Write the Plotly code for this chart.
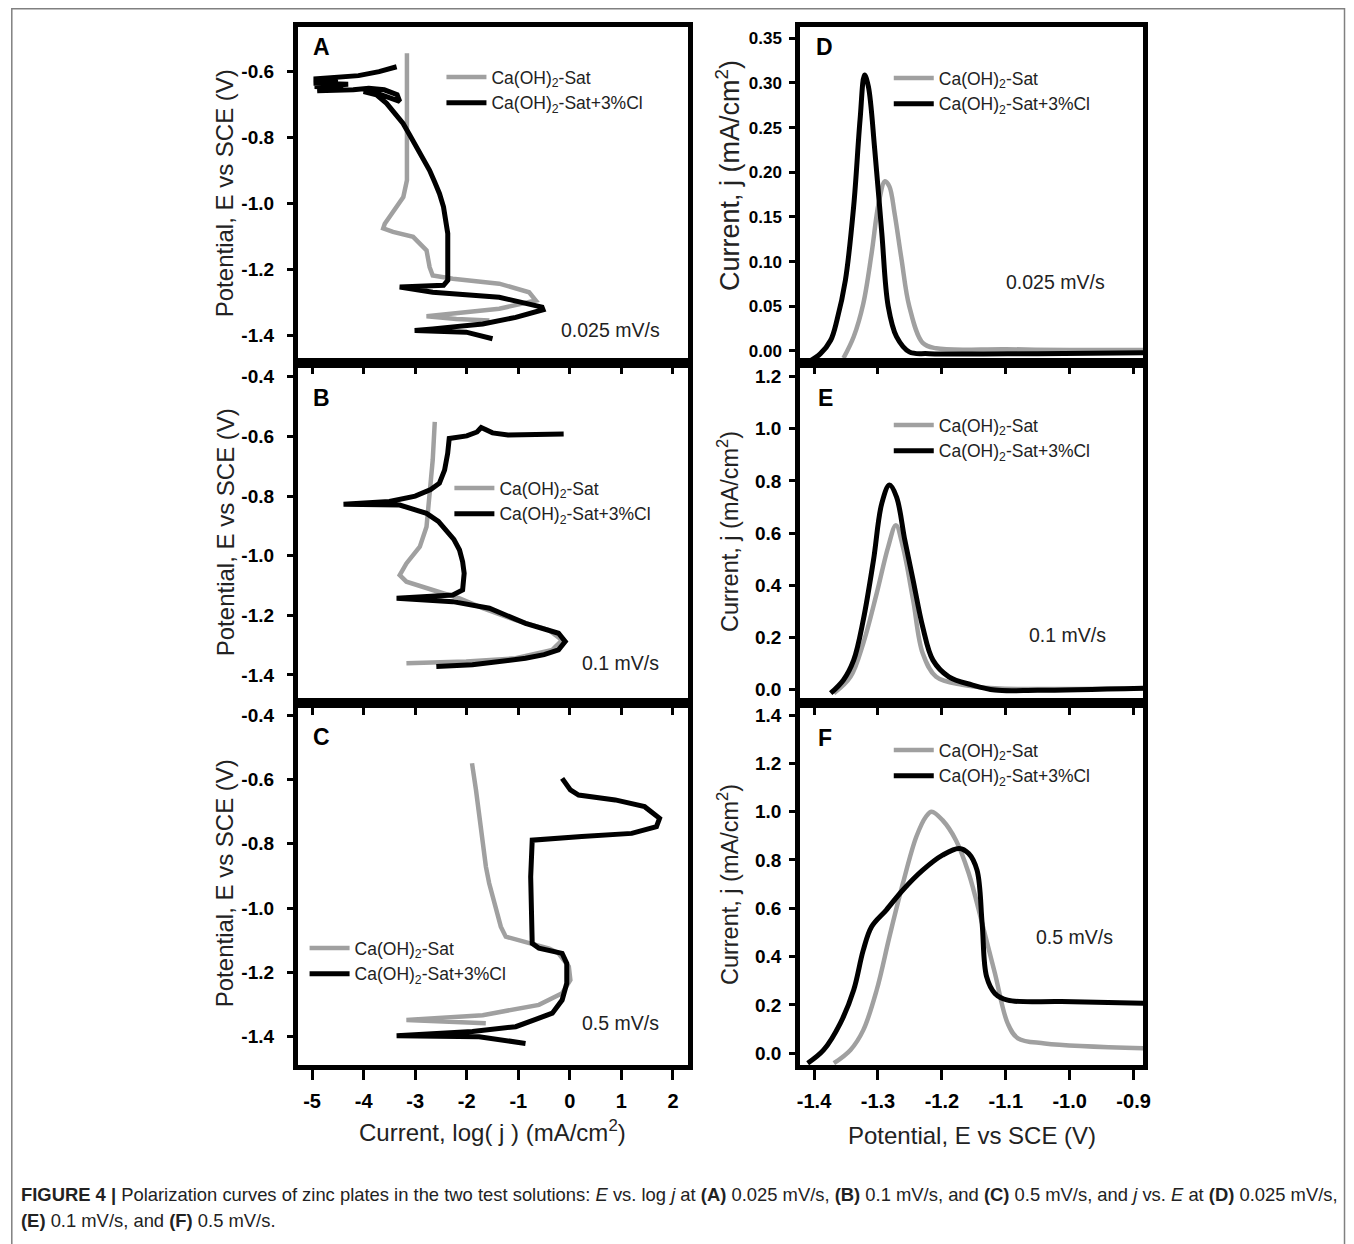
import plotly.graph_objects as go

# ---------------- data ----------------
# Panel A : 0.025 mV/s  (log j vs E)
A_sat_logj = [-3.16, -3.16, -3.17, -3.16, -3.23, -3.43, -3.59, -3.62, -3.43, -3.04, -2.78, -2.72, -2.66,
              -2.27, -1.37, -0.79, -0.66, -1.37, -2.27, -2.78, -2.2, -1.56]
A_sat_E = [-0.544, -0.75, -0.85, -0.929, -0.98, -1.025, -1.061, -1.075, -1.086, -1.101, -1.142, -1.193, -1.218,
           -1.228, -1.243, -1.269, -1.294, -1.319, -1.334, -1.342, -1.350, -1.355]
A_cl_logj = [-3.36, -3.7, -4.1, -4.6, -4.97, -4.5, -4.97, -4.3, -4.95, -4.4, -4.9, -4.2, -3.9, -3.6, -3.35,
             -3.30, -3.5, -3.8, -4.0, -3.75, -3.555, -3.395, -3.235, -3.106, -2.977, -2.850, -2.721, -2.624,
             -2.528, -2.451, -2.399, -2.368, -2.368, -2.368, -2.45, -3.30, -2.66, -1.37, -0.54, -0.52, -1.05,
             -1.69, -2.66, -3.01, -2.01, -1.50]
A_cl_E = [-0.585, -0.600, -0.612, -0.618, -0.622, -0.628, -0.635, -0.638, -0.645, -0.650, -0.658, -0.655,
          -0.650, -0.655, -0.670, -0.690, -0.680, -0.662, -0.660, -0.670, -0.696, -0.726, -0.757, -0.792,
          -0.828, -0.863, -0.899, -0.934, -0.970, -1.010, -1.051, -1.091, -1.152, -1.233, -1.248, -1.253,
          -1.269, -1.284, -1.314, -1.322, -1.345, -1.365, -1.380, -1.385, -1.390, -1.410]

# Panel B : 0.1 mV/s
B_sat_logj = [-2.62, -2.66, -2.72, -2.78, -2.91, -3.17, -3.30, -3.17, -2.66, -2.14, -1.69, -1.05, -0.41,
              -0.15, -0.34, -1.05, -2.01, -3.17]
B_sat_E = [-0.551, -0.679, -0.791, -0.903, -0.970, -1.026, -1.065, -1.087, -1.115, -1.143, -1.176, -1.216,
           -1.249, -1.283, -1.316, -1.344, -1.355, -1.361]
B_cl_logj = [-0.12, -0.6, -1.2, -1.5, -1.72, -1.80, -2.0, -2.34, -2.37, -2.43, -2.53, -2.70, -3.00, -3.50,
             -4.39, -3.30, -2.78, -2.55, -2.40, -2.25, -2.14, -2.08, -2.05, -2.08, -2.27, -3.36, -2.27, -1.56,
             -0.86, -0.50, -0.22, -0.09, -0.22, -0.50, -0.86, -1.89, -2.59]
B_cl_E = [-0.592, -0.594, -0.595, -0.588, -0.570, -0.585, -0.598, -0.607, -0.657, -0.713, -0.757, -0.778,
          -0.800, -0.818, -0.827, -0.830, -0.858, -0.885, -0.914, -0.945, -0.981, -1.020, -1.059, -1.115,
          -1.132, -1.143, -1.154, -1.176, -1.227, -1.245, -1.260, -1.288, -1.316, -1.332, -1.344, -1.366,
          -1.372]

# Panel C : 0.5 mV/s
C_sat_logj = [-1.898, -1.854, -1.821, -1.771, -1.725, -1.680, -1.628, -1.565, -1.501, -1.424, -1.339, -1.243,
              -0.73, -0.40, -0.22, -0.02, 0.01, -0.15, -0.60, -1.69, -3.17, -1.63]
C_sat_E = [-0.550, -0.592, -0.633, -0.695, -0.757, -0.820, -0.872, -0.923, -0.965, -1.011, -1.058, -1.089,
           -1.110, -1.126, -1.141, -1.182, -1.224, -1.265, -1.301, -1.333, -1.348, -1.358]
C_cl_logj = [-0.15, 0.01, 0.17, 0.88, 1.45, 1.74, 1.68, 1.20, 0.23, -0.73, -0.76, -0.73, -0.60, -0.15,
             -0.06, -0.06, -0.15, -0.34, -1.05, -1.89, -3.36, -1.76, -0.86]
C_cl_E = [-0.597, -0.633, -0.649, -0.664, -0.685, -0.721, -0.747, -0.768, -0.778, -0.789, -0.903, -1.110,
          -1.125, -1.141, -1.172, -1.234, -1.286, -1.327, -1.369, -1.384, -1.397, -1.400, -1.421]

# Panel D : 0.025 mV/s  (j vs E)
D_sat_E = [-1.354, -1.338, -1.323, -1.310, -1.299, -1.289, -1.282, -1.274, -1.263, -1.251, -1.230, -1.209,
           -1.10, -1.00, -0.885]
D_sat_j = [-0.008, 0.016, 0.053, 0.109, 0.165, 0.190, 0.184, 0.154, 0.102, 0.050, 0.009, 0.003, 0.002,
           0.001, 0.001]
D_cl_E = [-1.408, -1.390, -1.374, -1.364, -1.351, -1.338, -1.328, -1.321, -1.315, -1.305, -1.294, -1.284,
          -1.271, -1.251, -1.220, -1.05, -0.885]
D_cl_j = [-0.012, -0.003, 0.012, 0.035, 0.079, 0.162, 0.259, 0.309, 0.296, 0.225, 0.132, 0.050, 0.016,
          -0.001, -0.003, -0.003, -0.002]

# Panel E : 0.1 mV/s
E_sat_E = [-1.369, -1.343, -1.323, -1.302, -1.284, -1.272, -1.261, -1.245, -1.230, -1.209, -1.168, -1.117,
           -0.885]
E_sat_j = [-0.015, 0.048, 0.177, 0.368, 0.547, 0.630, 0.547, 0.343, 0.138, 0.048, 0.017, 0.004, 0.004]
E_cl_E = [-1.374, -1.354, -1.338, -1.323, -1.307, -1.294, -1.282, -1.271, -1.258, -1.245, -1.230, -1.214,
          -1.189, -1.153, -1.117, -1.05, -0.885]
E_cl_j = [-0.015, 0.036, 0.112, 0.266, 0.496, 0.714, 0.784, 0.739, 0.573, 0.419, 0.240, 0.112, 0.048,
          0.017, -0.003, -0.004, 0.004]

# Panel F : 0.5 mV/s
F_sat_E = [-1.369, -1.343, -1.323, -1.302, -1.282, -1.261, -1.240, -1.225, -1.216, -1.199, -1.178, -1.158,
           -1.137, -1.117, -1.097, -1.081, -1.039, -0.885]
F_sat_j = [-0.041, 0.014, 0.096, 0.262, 0.483, 0.703, 0.896, 0.979, 1.000, 0.965, 0.882, 0.745, 0.538,
           0.331, 0.124, 0.062, 0.041, 0.021]
F_cl_E = [-1.410, -1.385, -1.359, -1.338, -1.323, -1.310, -1.287, -1.261, -1.230, -1.199, -1.173, -1.158,
          -1.145, -1.137, -1.130, -1.117, -1.097, -1.013, -0.885]
F_cl_j = [-0.041, 0.014, 0.124, 0.262, 0.427, 0.524, 0.593, 0.676, 0.758, 0.820, 0.848, 0.827, 0.758,
          0.538, 0.317, 0.248, 0.220, 0.214, 0.207]

series_names = ["Ca(OH)<sub>2</sub>-Sat", "Ca(OH)<sub>2</sub>-Sat+3%Cl"]
panel_letters = ["A", "B", "C", "D", "E", "F"]
rate_labels = ["0.025 mV/s", "0.1 mV/s", "0.5 mV/s", "0.025 mV/s", "0.1 mV/s", "0.5 mV/s"]
logj_ticks = [-5, -4, -3, -2, -1, 0, 1, 2]
E_ticks = [-1.4, -1.3, -1.2, -1.1, -1.0, -0.9]
E_axis_ticks_A = [-0.6, -0.8, -1.0, -1.2, -1.4]
E_axis_ticks_BC = [-0.4, -0.6, -0.8, -1.0, -1.2, -1.4]
j_ticks_D = [0.00, 0.05, 0.10, 0.15, 0.20, 0.25, 0.30, 0.35]
j_ticks_E = [0.0, 0.2, 0.4, 0.6, 0.8, 1.0, 1.2]
j_ticks_F = [0.0, 0.2, 0.4, 0.6, 0.8, 1.0, 1.2, 1.4]

# ---------------- styling ----------------
FONT = "Liberation Sans, Arial, sans-serif"
GRAY = "#a0a0a0"
BLACK = "#000000"
TXT = "#222"

W, H = 1346, 1236          # figure size (page has an 8px body margin)
OFF = 8


def fx(px):
    return (px - OFF) / W


def fy(py):
    return 1 - (py - OFF) / H


left_dom = [fx(297), fx(690.5)]
right_dom = [fx(803.5), fx(1149.5)]
rows = [(26.5, 362.5), (362.5, 703), (703, 1065)]
row_dom = [[fy(b), fy(t)] for (t, b) in rows]

panels = [
    (A_sat_logj, A_sat_E, A_cl_logj, A_cl_E),
    (B_sat_logj, B_sat_E, B_cl_logj, B_cl_E),
    (C_sat_logj, C_sat_E, C_cl_logj, C_cl_E),
    (D_sat_E, D_sat_j, D_cl_E, D_cl_j),
    (E_sat_E, E_sat_j, E_cl_E, E_cl_j),
    (F_sat_E, F_sat_j, F_cl_E, F_cl_j),
]
y_ranges = [[-1.482, -0.463], [-1.494, -0.352], [-1.488, -0.3627],
            [-0.0129, 0.3632], [-0.0526, 1.2545], [-0.0484, 1.4497]]
y_tickvals = [E_axis_ticks_A, E_axis_ticks_BC, E_axis_ticks_BC, j_ticks_D, j_ticks_E, j_ticks_F]
y_formats = ["{:.1f}", "{:.1f}", "{:.1f}", "{:.2f}", "{:.1f}", "{:.1f}"]
y_tick_sizes = [19, 19, 19, 17, 19, 19]

fig = go.Figure()
layout = {}
for i, (x1, y1, x2, y2) in enumerate(panels):
    n = i + 1
    xa = "x" if n == 1 else f"x{n}"
    ya = "y" if n == 1 else f"y{n}"
    leg = "legend" if n == 1 else f"legend{n}"
    left = i < 3
    shape = "linear" if left else "spline"
    fig.add_trace(go.Scatter(x=x1, y=y1, mode="lines", name=series_names[0],
                             line=dict(color=GRAY, width=4.5, shape=shape),
                             xaxis=xa, yaxis=ya, legend=leg))
    fig.add_trace(go.Scatter(x=x2, y=y2, mode="lines", name=series_names[1],
                             line=dict(color=BLACK, width=5, shape=shape),
                             xaxis=xa, yaxis=ya, legend=leg))

    bottom = i in (2, 5)
    xkey = "xaxis" if n == 1 else f"xaxis{n}"
    ykey = "yaxis" if n == 1 else f"yaxis{n}"
    layout[xkey] = dict(
        domain=left_dom if left else right_dom,
        anchor=ya,
        range=[-5.28, 2.29] if left else [-1.422, -0.885],
        tickmode="array",
        tickvals=logj_ticks if left else E_ticks,
        ticktext=[str(v) for v in logj_ticks] if left else [f"{v:.1f}" for v in E_ticks],
        showline=True, mirror=True, linewidth=4.5, linecolor="black",
        ticks="outside", ticklen=10 if bottom else 7, tickwidth=3, tickcolor="black",
        showticklabels=bottom,
        ticklabelstandoff=4,
        tickfont=dict(family=FONT, size=20, color="black", weight="bold"),
        showgrid=False, zeroline=False, fixedrange=True,
    )
    layout[ykey] = dict(
        domain=row_dom[i % 3],
        anchor=xa,
        range=y_ranges[i],
        tickmode="array",
        tickvals=y_tickvals[i],
        ticktext=[y_formats[i].format(v) for v in y_tickvals[i]],
        showline=True, mirror=True, linewidth=4.5, linecolor="black",
        ticks="outside", ticklen=6, tickwidth=3, tickcolor="black",
        ticklabelstandoff=9 if left else 4,
        tickfont=dict(family=FONT, size=y_tick_sizes[i], color="black", weight="bold"),
        showgrid=False, zeroline=False, fixedrange=True,
    )

# legend positions (page pixels)
legend_pos = [(442, 59), (450, 470), (304, 930), (893, 60), (893, 407), (893, 732)]
for i, (lx, ly) in enumerate(legend_pos):
    key = "legend" if i == 0 else f"legend{i + 1}"
    layout[key] = dict(x=fx(lx), y=fy(ly), xanchor="left", yanchor="top",
                       bgcolor="rgba(0,0,0,0)", borderwidth=0,
                       font=dict(family=FONT, size=17.5, color=TXT),
                       tracegroupgap=0, itemwidth=40)

annotations = []
letter_pos = [(310, 47), (310, 398), (310, 737), (818, 47), (820, 398), (820, 738)]
for (lx, ly), t in zip(letter_pos, panel_letters):
    annotations.append(dict(x=fx(lx), y=fy(ly), xref="paper", yref="paper", text=f"<b>{t}</b>",
                            showarrow=False, xanchor="left", yanchor="middle",
                            font=dict(family=FONT, size=23, color="black")))
rate_pos = [(612, 330), (623, 663), (623, 1023), (1061, 282), (1073, 635), (1080, 937)]
for (lx, ly), t in zip(rate_pos, rate_labels):
    annotations.append(dict(x=fx(lx), y=fy(ly), xref="paper", yref="paper", text=t,
                            showarrow=False, xanchor="center", yanchor="middle",
                            font=dict(family=FONT, size=19.5, color=TXT)))
# y-axis titles
left_title_y = [193, 532, 883]
right_title_y = [176, 532, 885]
right_title_size = [27, 23.5, 23.5]
for k in range(3):
    annotations.append(dict(x=fx(224), y=fy(left_title_y[k]), xref="paper", yref="paper",
                            text="Potential, E vs SCE (V)", textangle=-90, showarrow=False,
                            xanchor="center", yanchor="middle",
                            font=dict(family=FONT, size=24, color=TXT)))
    annotations.append(dict(x=fx(731), y=fy(right_title_y[k]), xref="paper", yref="paper",
                            text="Current, j (mA/cm<sup>2</sup>)", textangle=-90, showarrow=False,
                            xanchor="center", yanchor="middle",
                            font=dict(family=FONT, size=right_title_size[k], color=TXT)))
# x-axis titles
annotations.append(dict(x=fx(493), y=fy(1131), xref="paper", yref="paper",
                        text="Current, log( j ) (mA/cm<sup>2</sup>)", showarrow=False,
                        xanchor="center", yanchor="middle",
                        font=dict(family=FONT, size=24, color=TXT)))
annotations.append(dict(x=fx(977), y=fy(1135), xref="paper", yref="paper",
                        text="Potential, E vs SCE (V)", showarrow=False,
                        xanchor="center", yanchor="middle",
                        font=dict(family=FONT, size=24, color=TXT)))
# caption
cap1 = ("<b>FIGURE 4 |</b> Polarization curves of zinc plates in the two test solutions: <i>E</i> vs. log <i>j</i> at "
        "<b>(A)</b> 0.025 mV/s, <b>(B)</b> 0.1 mV/s, and <b>(C)</b> 0.5 mV/s, and <i>j</i> vs. <i>E</i> at "
        "<b>(D)</b> 0.025 mV/s,")
cap2 = "<b>(E)</b> 0.1 mV/s, and <b>(F)</b> 0.5 mV/s."
annotations.append(dict(x=fx(16), y=fy(1194), xref="paper", yref="paper", text=cap1, showarrow=False,
                        xanchor="left", yanchor="middle", font=dict(family=FONT, size=18.4, color=TXT)))
annotations.append(dict(x=fx(16), y=fy(1220), xref="paper", yref="paper", text=cap2, showarrow=False,
                        xanchor="left", yanchor="middle", font=dict(family=FONT, size=18.4, color=TXT)))

shapes = [dict(type="rect", xref="paper", yref="paper", x0=fx(8.8), x1=fx(1352.5), y0=fy(1262), y1=fy(8.8),
               line=dict(color="#808080", width=1.5), fillcolor="rgba(0,0,0,0)", layer="below")]

fig.update_layout(
    width=W, height=H,
    margin=dict(l=0, r=0, t=0, b=0),
    paper_bgcolor="white", plot_bgcolor="rgba(0,0,0,0)",
    font=dict(family=FONT),
    annotations=annotations, shapes=shapes,
    **layout,
)

fig.write_html("out.html")
